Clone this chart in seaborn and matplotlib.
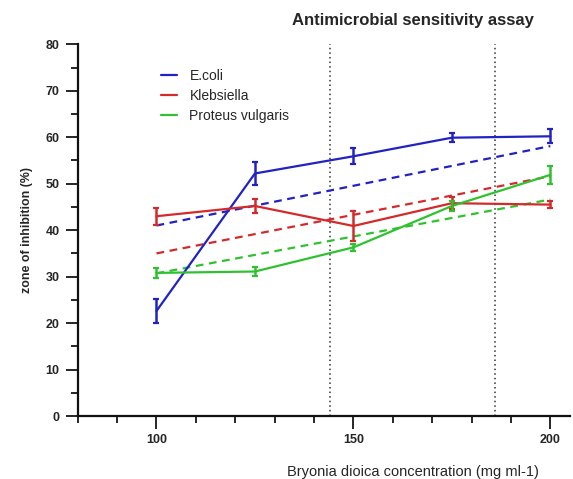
import numpy as np
import pandas as pd
import matplotlib
matplotlib.use("Agg")
import matplotlib.pyplot as plt
import seaborn as sns
from matplotlib.ticker import MultipleLocator

# ---- data ----
concentration = [100, 125, 150, 175, 200]
species = ["E.coli", "Klebsiella", "Proteus vulgaris"]
ecoli_mean = [22.6, 52.2, 55.9, 59.9, 60.2]
ecoli_err = [2.6, 2.4, 1.7, 1.0, 1.5]
kleb_mean = [43.0, 45.2, 40.9, 45.8, 45.5]
kleb_err = [1.8, 1.5, 3.3, 1.3, 0.7]
proteus_mean = [30.8, 31.1, 36.3, 45.2, 51.9]
proteus_err = [1.1, 1.0, 0.7, 1.0, 2.0]
# trend (dashed) line endpoints at 100 and 200
trend_x = [100, 200]
ecoli_trend = [41.0, 58.1]
kleb_trend = [35.0, 51.6]
proteus_trend = [30.7, 46.6]
vlines_x = [144, 186]

colors = {"E.coli": "#2222c4", "Klebsiella": "#d42a2a", "Proteus vulgaris": "#2ec22e"}

df = pd.DataFrame({
    "conc": concentration * 3,
    "value": ecoli_mean + kleb_mean + proteus_mean,
    "err": ecoli_err + kleb_err + proteus_err,
    "species": sum([[s] * len(concentration) for s in species], []),
})
df_trend = pd.DataFrame({
    "conc": trend_x * 3,
    "value": ecoli_trend + kleb_trend + proteus_trend,
    "species": sum([[s] * 2 for s in species], []),
})

sns.set_style("ticks")
plt.rcParams["font.family"] = ["Liberation Sans", "DejaVu Sans"]

fig = plt.figure(figsize=(5.73, 4.79), dpi=100)
ax = fig.add_axes([0.1356, 0.1315, 0.8592, 0.776])

for x in vlines_x:
    ax.axvline(x, color="#333333", linestyle=(0, (1, 2)), linewidth=1.1, zorder=1)

sns.lineplot(data=df_trend, x="conc", y="value", hue="species", palette=colors,
             linestyle="--", dashes=False, linewidth=1.6, ax=ax, legend=False)
for line in ax.get_lines()[len(vlines_x):]:
    line.set_dashes((3.5, 2.5))

sns.lineplot(data=df, x="conc", y="value", hue="species", palette=colors,
             linewidth=1.6, ax=ax, legend=True)

for s in species:
    sub = df[df.species == s]
    ax.errorbar(sub.conc, sub.value, yerr=sub.err, fmt="none", ecolor=colors[s],
                elinewidth=1.8, capsize=2.2, capthick=1.6, zorder=3)

ax.set_xlim(80, 205)
ax.set_ylim(0, 80)
ax.xaxis.set_major_locator(MultipleLocator(50))
ax.xaxis.set_minor_locator(MultipleLocator(10))
ax.yaxis.set_major_locator(MultipleLocator(10))
ax.yaxis.set_minor_locator(MultipleLocator(5))
ax.tick_params(axis="both", which="major", length=9, width=1.4, labelsize=9, pad=4)
ax.tick_params(axis="both", which="minor", length=5, width=1.4)
for lbl in ax.get_xticklabels() + ax.get_yticklabels():
    lbl.set_fontweight("bold")
for sp in ["top", "right"]:
    ax.spines[sp].set_visible(False)
for sp in ["left", "bottom"]:
    ax.spines[sp].set_linewidth(1.6)
    ax.spines[sp].set_color("#111111")

ax.set_xlabel("")
ax.set_ylabel("")
fig.text(0.721, 0.015, "Bryonia dioica concentration (mg ml-1)", ha="center",
         va="center", fontsize=10.5)
fig.text(0.047, 0.52, "zone of inhibition (%)", ha="center", va="center",
         rotation=90, fontsize=8.9, fontweight="bold")
fig.text(0.7215, 0.958, "Antimicrobial sensitivity assay", ha="center",
         va="center", fontsize=12, fontweight="bold")

leg = ax.legend(loc="upper left", bbox_to_anchor=(0.259, 0.882),
                bbox_transform=fig.transFigure, frameon=False, fontsize=10,
                handlelength=1.15, handletextpad=0.9, labelspacing=0.42, title=None)

fig.savefig("out.png", dpi=100, facecolor="white")
